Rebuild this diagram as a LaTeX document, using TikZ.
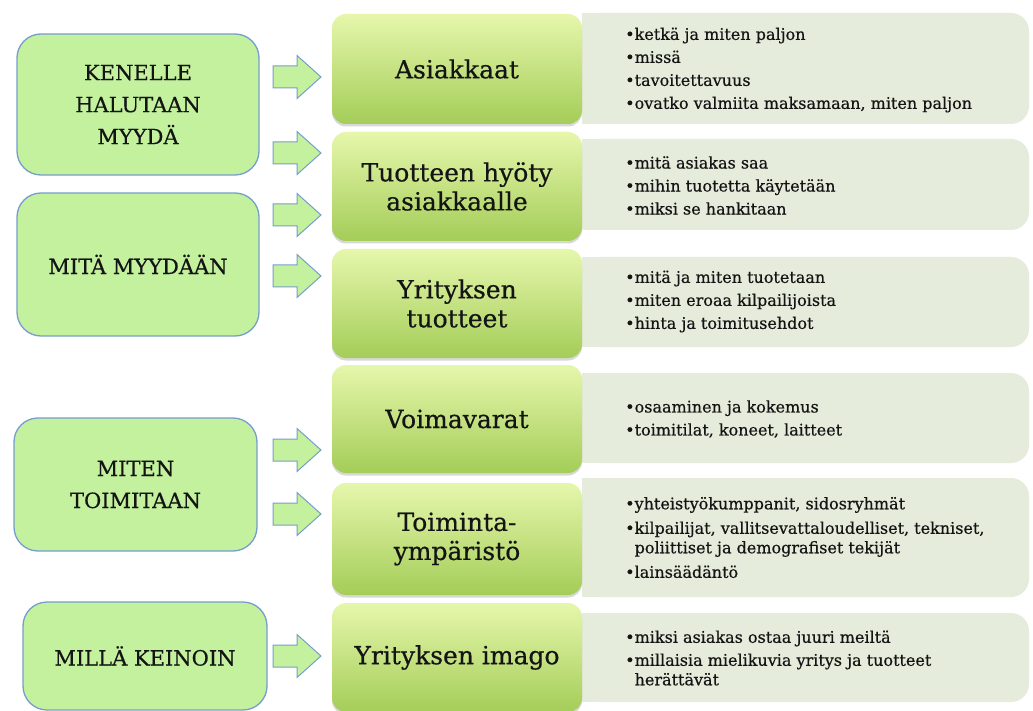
\documentclass[tikz,border=0pt]{standalone}
\usepackage{fontspec}
\setmainfont[FakeBold=0.5]{DejaVu Serif}
\usetikzlibrary{shadows}
\definecolor{leftfill}{RGB}{196,241,158}
\definecolor{leftdraw}{RGB}{118,158,204}
\definecolor{midtop}{RGB}{230,247,172}
\definecolor{midbot}{RGB}{164,205,88}
\definecolor{rightfill}{RGB}{230,236,220}
\definecolor{txt}{RGB}{20,20,20}
\newcommand{\bu}{\textbullet}
\newcommand{\ind}{\phantom{\textbullet}}
\tikzset{
  leftbox/.style={draw=leftdraw, line width=1.3pt, fill=leftfill, rounded corners=24pt,
    align=center, font=\fontsize{21}{32}\selectfont, inner sep=0pt, text=txt},
  midbox/.style={rounded corners=14pt, top color=midtop, bottom color=midbot,
    drop shadow={opacity=0.3, shadow xshift=0pt, shadow yshift=-2.5pt},
    align=center, font=\fontsize{25}{29}\selectfont, minimum width=250pt, inner sep=0pt, text=txt},
  rightbox/.style={rounded corners=18pt, fill=rightfill, inner sep=0pt, minimum width=447pt},
  bultext/.style={align=left, anchor=west, inner sep=0pt, font=\fontsize{16}{19.5}\selectfont, text=txt},
  barrow/.style={draw=leftdraw, fill=leftfill, line width=1pt, line join=miter},
  pics/blockarr/.style={code={\draw[barrow] (-24,-11) -- (0,-11) -- (0,-21.5) -- (24,0)
      -- (0,21.5) -- (0,11) -- (-24,11) -- cycle;}}
}
\begin{document}
\begin{tikzpicture}[x=1pt, y=-1pt]
\fill[white] (0,0) rectangle (1033,711);
\useasboundingbox (0,0) rectangle (1033,711);

% right description boxes
\node[rightbox, minimum height=111pt] (r1) at (805.5,68.5) {};
\node[rightbox, minimum height=91pt]  (r2) at (805.5,184.5) {};
\node[rightbox, minimum height=90pt]  (r3) at (805.5,302) {};
\node[rightbox, minimum height=90pt]  (r4) at (805.5,418) {};
\node[rightbox, minimum height=119pt] (r5) at (805.5,537.5) {};
\node[rightbox, minimum height=89pt]  (r6) at (805.5,657.5) {};
\foreach \r in {r1,r2,r3,r4,r5,r6}
  \fill[rightfill] (\r.north west) rectangle ([xshift=20pt]\r.south west);

\node[bultext] (t1) at (625,70) {\bu ketkä ja miten paljon\\[3.5pt]\bu missä\\[3.5pt]\bu tavoitettavuus\\[3.5pt]\bu ovatko valmiita maksamaan, miten paljon};
\node[bultext] (t2) at (625,185.5) {\bu mitä asiakas saa\\[3.5pt]\bu mihin tuotetta käytetään\\[3.5pt]\bu miksi se hankitaan};
\node[bultext] (t3) at (625,301.5) {\bu mitä ja miten tuotetaan\\[3.5pt]\bu miten eroaa kilpailijoista\\[3.5pt]\bu hinta ja toimitusehdot};
\node[bultext] (t4) at (625,419) {\bu osaaminen ja kokemus\\[3.5pt]\bu toimitilat, koneet, laitteet};
\node[bultext] (t5) at (625,537.5) {\bu yhteistyökumppanit, sidosryhmät\\[5pt]\bu kilpailijat, vallitsevattaloudelliset, tekniset,\\\ind poliittiset ja demografiset tekijät\\[5pt]\bu lainsäädäntö};
\node[bultext] (t6) at (625,658) {\bu miksi asiakas ostaa juuri meiltä\\[3.5pt]\bu millaisia mielikuvia yritys ja tuotteet\\\ind herättävät};

% middle boxes
\node[midbox, minimum height=110pt] (m1) at (457,69) {Asiakkaat};
\node[midbox, minimum height=109pt] (m2) at (457,186.5) {Tuotteen hyöty\\asiakkaalle};
\node[midbox, minimum height=109pt] (m3) at (457,303.5) {Yrityksen\\tuotteet};
\node[midbox, minimum height=108pt] (m4) at (457,419) {Voimavarat};
\node[midbox, minimum height=112pt] (m5) at (457,539) {Toiminta-\\ympäristö};
\node[midbox, minimum height=109pt] (m6) at (457,657.5) {Yrityksen imago};

% left boxes
\node[leftbox, minimum width=242pt, minimum height=141pt] (k1) at (138,104.5) {KENELLE\\HALUTAAN\\MYYDÄ};
\node[leftbox, minimum width=242pt, minimum height=143pt] (k2) at (138,264.5) {MITÄ MYYDÄÄN};
\node[leftbox, minimum width=243pt, minimum height=133pt] (k3) at (135.5,484.5) {MITEN\\TOIMITAAN};
\node[leftbox, minimum width=244pt, minimum height=108pt] (k4) at (145,656) {MILLÄ KEINOIN};

% block arrows
\pic (a1) at (297,77) {blockarr};
\pic (a2) at (297,153) {blockarr};
\pic (a3) at (297,215) {blockarr};
\pic (a4) at (297,276) {blockarr};
\pic (a5) at (297,450) {blockarr};
\pic (a6) at (297,514) {blockarr};
\pic (a7) at (297,656) {blockarr};
\end{tikzpicture}
\end{document}
